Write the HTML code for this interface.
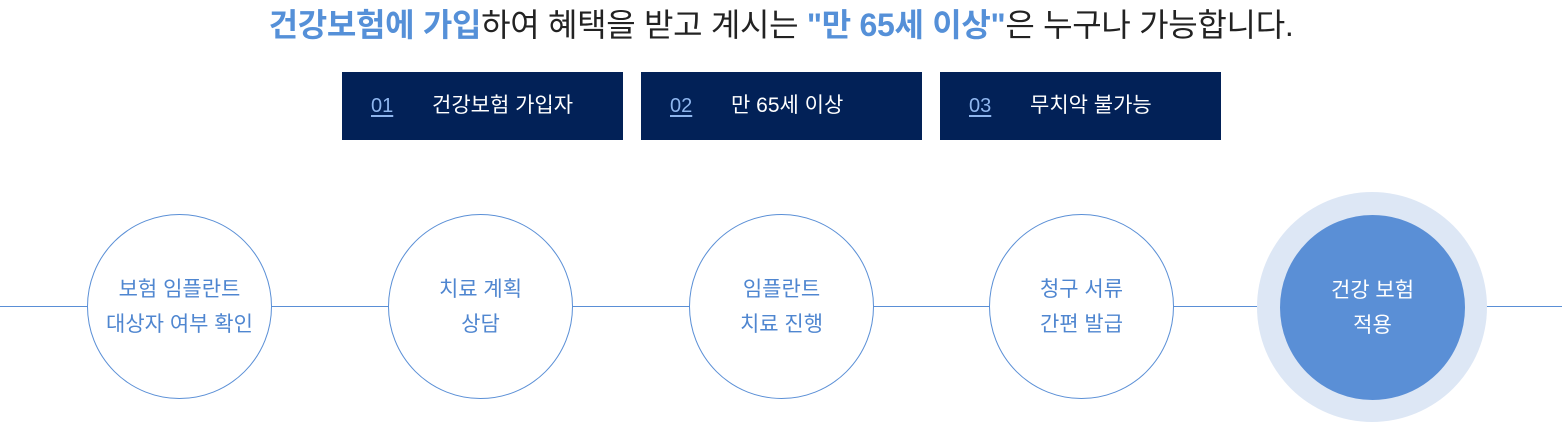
<!DOCTYPE html>
<html><head><meta charset="utf-8"><style>
body{margin:0;width:1562px;height:421px;background:#fff;position:relative;overflow:hidden;font-family:"Liberation Sans","Noto Sans CJK KR",sans-serif;}
.t{position:absolute;left:0;width:1562px;top:0px;text-align:center;font-size:32px;color:#222;letter-spacing:-0.3px;white-space:nowrap}
.t b{color:#5590d8;font-weight:700}
.box{position:absolute;top:72px;height:68px;width:281px;background:#022157;color:#fff;font-size:21px;line-height:68px}
.box u{color:#8fb6ee;position:absolute;left:29px;font-size:20px;text-underline-offset:3px}
.box span{position:absolute;left:90px}
.line{position:absolute;left:0;width:1562px;top:306px;height:1px;background:#5a8fd6}
.c{position:absolute;width:183px;height:183px;border:1.5px solid #5a8fd6;border-radius:50%;background:#fff;display:flex;align-items:center;justify-content:center;text-align:center;color:#4f86d0;font-size:21px;line-height:35px;top:214px}
.halo{position:absolute;left:1257px;top:192px;width:230px;height:230px;border-radius:50%;background:#dde7f5}
</style></head><body>
<div class="t"><b>건강보험에 가입</b>하여 혜택을 받고 계시는 <b>"만 65세 이상"</b>은 누구나 가능합니다.</div>
<div class="box" style="left:342px"><u>01</u><span>건강보험 가입자</span></div>
<div class="box" style="left:641px"><u>02</u><span>만 65세 이상</span></div>
<div class="box" style="left:940px"><u>03</u><span>무치악 불가능</span></div>
<div class="line"></div>
<div class="c" style="left:87px">보험 임플란트<br>대상자 여부 확인</div>
<div class="c" style="left:388px">치료 계획<br>상담</div>
<div class="c" style="left:689px">임플란트<br>치료 진행</div>
<div class="c" style="left:989px">청구 서류<br>간편 발급</div>
<div class="halo"></div>
<div class="c" style="left:1280px;top:215px;background:#5a8fd6;border-color:#5a8fd6;color:#fff">건강 보험<br>적용</div>
</body></html>
